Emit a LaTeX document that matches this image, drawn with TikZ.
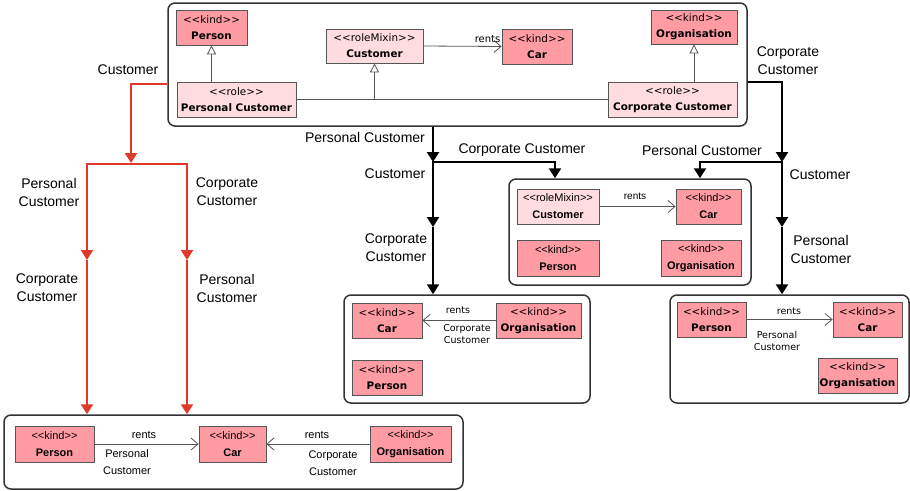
\documentclass[tikz,border=0pt]{standalone}
\usepackage{fontspec}
\setmainfont{Liberation Sans}
\newfontfamily\luc{DejaVu Sans}
\newfontfamily\ari{Liberation Sans}
\usetikzlibrary{arrows.meta}
\definecolor{kindfill}{HTML}{FF9BA3}
\definecolor{rolefill}{HTML}{FFDCE0}
\definecolor{boxline}{HTML}{555555}
\definecolor{redline}{HTML}{E0392B}
\definecolor{frameline}{HTML}{333333}
\newcommand\st[1]{<\kern0pt<#1>\kern0pt>}
\tikzset{
  umlL/.style={draw=boxline, line width=0.8pt, inner sep=0pt, align=center, font=\luc\fontsize{10.4}{16}\selectfont},
  umlA/.style={draw=boxline, line width=0.8pt, inner sep=0pt, align=center, font=\ari\fontsize{11}{17}\selectfont},
  kindbox/.style={fill=kindfill},
  rolebox/.style={fill=rolefill},
  sz/.style 2 args={minimum width=#1pt, minimum height=#2pt},
  framebox/.style={draw=frameline, line width=1.5pt, rounded corners=7pt, inner sep=0pt},
  lbl/.style={font=\ari\fontsize{14}{18}\selectfont, align=center, inner sep=0pt},
  slblL/.style={font=\luc\fontsize{9.5}{12}\selectfont, align=center, inner sep=0pt},
  slblA/.style={font=\ari\fontsize{11}{17}\selectfont, align=center, inner sep=0pt},
  redarrow/.style={draw=redline, line width=2.2pt, -{Triangle[width=12pt,length=10pt]}},
  blkarrow/.style={draw=black, line width=2.3pt, -{Triangle[width=12pt,length=10pt]}},
  gen/.style={draw=boxline, line width=0.8pt, -{Triangle[open,width=9pt,length=9pt,fill=white]}},
  assoc/.style={draw=boxline, line width=0.8pt, -{Straight Barb[length=7pt,width=12pt]}},
}
\begin{document}
\begin{tikzpicture}[x=1pt,y=-1pt]
\useasboundingbox (0,0) rectangle (910,490);
% containers
\node[framebox, sz={579}{123}] (top) at (457.5,64.5) {};
\node[framebox, sz={459}{74}] (bot) at (233.5,452) {};
\node[framebox, sz={242}{106}] (mr) at (630,232) {};
\node[framebox, sz={246}{108}] (ml) at (467,349) {};
\node[framebox, sz={239}{108}] (br) at (789.5,349) {};

% top container
\node[umlL, kindbox, sz={71}{35}] (tPerson) at (211.5,27.5) {\st{kind}\\\textbf{Person}};
\node[umlL, rolebox, sz={97}{34}] (tCust) at (374.5,46) {\st{roleMixin}\\\textbf{Customer}};
\node[umlL, rolebox, sz={119}{35}] (tPC) at (236.5,99.5) {\st{role}\\\textbf{Personal Customer}};
\node[umlL, kindbox, sz={70}{35}] (tCar) at (537,46.5) {\st{kind}\\\textbf{Car}};
\node[umlL, kindbox, sz={86}{34}] (tOrg) at (694,27) {\st{kind}\\\textbf{Organisation}};
\node[umlL, rolebox, sz={129}{35}] (tCC) at (672.5,99.5) {\st{role}\\\textbf{Corporate Customer}};
\draw[gen] (tPC.north -| tPerson.south) -- (tPerson.south);
\draw[gen] (tCC.north -| tOrg.south) -- (tOrg.south);
\draw[draw=boxline, line width=0.8pt] (tPC.east) -- (tCC.west);
\draw[gen] (tPC.east -| tCust.south) -- (tCust.south);
\draw[assoc] (tCust.east) -- node[pos=0.82, above=3pt, font=\luc\fontsize{10}{12}\selectfont, inner sep=0pt] {rents} (tCar.west);

% bottom container
\node[umlA, kindbox, sz={79}{36}] (bPerson) at (54.5,444) {\st{kind}\\\textbf{Person}};
\node[umlA, kindbox, sz={67}{36}] (bCar) at (232.5,444) {\st{kind}\\\textbf{Car}};
\node[umlA, kindbox, sz={81}{36}] (bOrg) at (410.5,444) {\st{kind}\\\textbf{Organisation}};
\draw[assoc] (bPerson.east) -- (bCar.west);
\draw[assoc] (bOrg.west) -- (bCar.east);
\node[slblA] (bl1) at (144,435) {rents};
\node[slblA] (bl2) at (127,462) {Personal\\Customer};
\node[slblA] (bl3) at (317,435) {rents};
\node[slblA] (bl4) at (333,463) {Corporate\\Customer};

% middle right container
\node[umlA, rolebox, sz={82}{35}] (mCust) at (558,206.5) {\st{roleMixin}\\\textbf{Customer}};
\node[umlA, kindbox, sz={65}{35}] (mCar) at (708.5,206.5) {\st{kind}\\\textbf{Car}};
\node[umlA, kindbox, sz={82}{36}] (mPerson) at (558,258) {\st{kind}\\\textbf{Person}};
\node[umlA, kindbox, sz={80}{36}] (mOrg) at (701,258) {\st{kind}\\\textbf{Organisation}};
\draw[assoc] (mCust.east) -- (mCar.west);
\node[font=\ari\fontsize{10}{12}\selectfont, inner sep=0pt] (ml1) at (635,196) {rents};

% middle left container
\node[umlL, kindbox, sz={70}{35}] (lCar) at (387,320.5) {\st{kind}\\\textbf{Car}};
\node[umlL, kindbox, sz={85}{35}] (lOrg) at (538.5,320.5) {\st{kind}\\\textbf{Organisation}};
\node[umlL, kindbox, sz={70}{35}] (lPerson) at (387,377.5) {\st{kind}\\\textbf{Person}};
\draw[assoc] (lOrg.west) -- (lCar.east);
\node[slblL] (ll1) at (458,310) {rents};
\node[slblL] (ll2) at (467,334) {Corporate\\Customer};

% bottom right container
\node[umlL, kindbox, sz={69}{35}] (rPerson) at (711.5,319.5) {\st{kind}\\\textbf{Person}};
\node[umlL, kindbox, sz={69}{35}] (rCar) at (867.5,319.5) {\st{kind}\\\textbf{Car}};
\node[umlL, kindbox, sz={79}{35}] (rOrg) at (857.5,375.5) {\st{kind}\\\textbf{Organisation}};
\draw[assoc] (rPerson.east) -- (rCar.west);
\node[slblL] (rl1) at (789,311) {rents};
\node[slblL] (rl2) at (777,341) {Personal\\Customer};

% red flow
\coordinate (rA) at (131,163);
\coordinate (rL) at (87,164);
\coordinate (rR) at (187,164);
\coordinate (rL2) at (87,260);
\coordinate (rR2) at (187,260);
\draw[redarrow] (top.west |- 0,84) -| (rA);
\draw[draw=redline, line width=2.2pt] ([xshift=-1.1pt]rL) -- ([xshift=1.1pt]rR);
\draw[redarrow] (rL) -- (rL2);
\draw[redarrow] (rL2) -- (rL2 |- bot.north);
\draw[redarrow] (rR) -- (rR2);
\draw[redarrow] (rR2) -- (rR2 |- bot.north);

% black flow left
\coordinate (bA) at (433,162);
\coordinate (bB) at (433,227);
\coordinate (bC) at (555,162);
\draw[blkarrow] (top.south -| bA) -- (bA);
\draw[blkarrow] (bA) -- (bB);
\draw[blkarrow] (bB) -- (bB |- ml.north);
\draw[blkarrow] ([xshift=-1.15pt]bA) -| (bC |- mr.north);

% black flow right
\coordinate (cA) at (782,162);
\coordinate (cB) at (782,227);
\coordinate (cC) at (700,162);
\draw[blkarrow] (top.east |- 0,82) -| (cA);
\draw[blkarrow] (cA) -- (cB);
\draw[blkarrow] (cB) -- (cB |- br.north);
\draw[blkarrow] ([xshift=1.15pt]cA) -| (cC |- mr.north);

% flow labels
\node[lbl] (f1) at (128,70) {Customer};
\node[lbl] (f2) at (49,192) {Personal\\Customer};
\node[lbl] (f3) at (227,192) {Corporate\\Customer};
\node[lbl] (f4) at (47,288) {Corporate\\Customer};
\node[lbl] (f5) at (227,288) {Personal\\Customer};
\node[lbl] (f6) at (365,137) {Personal Customer};
\node[lbl] (f7) at (522,150) {Corporate Customer};
\node[lbl] (f8) at (395,174) {Customer};
\node[lbl] (f9) at (396,248) {Corporate\\Customer};
\node[lbl] (f10) at (788,61) {Corporate\\Customer};
\node[lbl] (f11) at (702,150) {Personal Customer};
\node[lbl] (f12) at (820,175) {Customer};
\node[lbl] (f13) at (821,249) {Personal\\Customer};
\end{tikzpicture}
\end{document}
